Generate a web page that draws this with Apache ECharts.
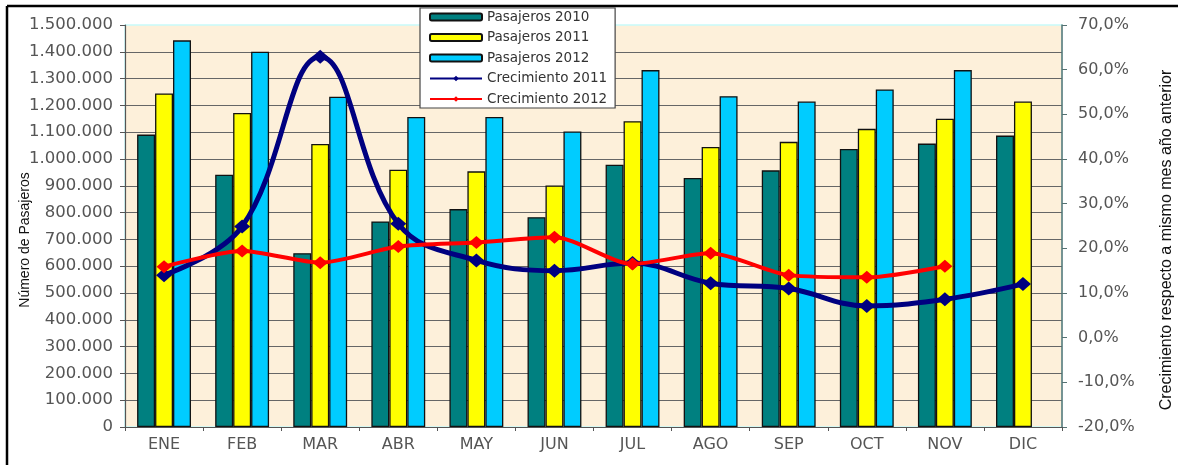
<!DOCTYPE html>
<html>
<head>
<meta charset="utf-8">
<script src="https://cdn.jsdelivr.net/npm/echarts@6/dist/echarts.min.js"></script>
<style>
html,body{margin:0;padding:0;background:#fff;}
#chart{width:1178px;height:465px;}
</style>
</head>
<body>
<div id="chart"></div>
<script>
const months = ['ENE','FEB','MAR','ABR','MAY','JUN','JUL','AGO','SEP','OCT','NOV','DIC'];
const pasajeros2010 = [1091000, 941500, 648600, 767000, 813000, 783000, 979000, 929000, 957600, 1037700, 1057500, 1087400];
const pasajeros2011 = [1244500, 1172000, 1056000, 960000, 954000, 901000, 1141000, 1045000, 1064000, 1112500, 1150000, 1214600];
const pasajeros2012 = [1442700, 1400400, 1232000, 1157000, 1157000, 1103000, 1331700, 1234500, 1214600, 1259500, 1331700, null];
const crecimiento2011 = [14.0, 24.9, 62.9, 25.5, 17.3, 15.0, 16.7, 12.2, 11.0, 7.1, 8.6, 12.0];
const crecimiento2012 = [15.9, 19.4, 16.8, 20.4, 21.3, 22.5, 16.5, 18.9, 14.0, 13.5, 16.0, null];
const leftTitle = 'Número de Pasajeros';
const rightTitle = 'Crecimiento respecto a mismo mes año anterior';
const chartTitle = 'pasajeros';

const chart = echarts.init(document.getElementById('chart'), null, {renderer: 'canvas'});
const tickFont = 'DejaVu Sans';
const fmtThousands = v => String(v).replace(/\B(?=(\d{3})+(?!\d))/g, '.');
const fmtPct = v => v.toFixed(1).replace('.', ',') + '%';

const barBase = {type: 'bar', barGap: '0%', barCategoryGap: '31%', yAxisIndex: 0};
const option = {
  animation: false,
  backgroundColor: '#ffffff',
  grid: {left: 125, right: 116, top: 25, bottom: 38, show: true, backgroundColor: '#FDF0DA', borderColor: '#C8FAFA', borderWidth: 1.5},
  legend: {
    orient: 'vertical', left: 420, top: 8,
    backgroundColor: '#ffffff', borderColor: '#444', borderWidth: 1.2,
    padding: [2, 8, 2, 9],
    itemWidth: 52, itemHeight: 7, itemGap: 6.5,
    textStyle: {fontFamily: tickFont, fontSize: 13.5, color: '#333', lineHeight: 14},
    data: ['Pasajeros 2010', 'Pasajeros 2011', 'Pasajeros 2012', 'Crecimiento 2011', 'Crecimiento 2012']
  },
  xAxis: {
    type: 'category', data: months,
    axisLine: {lineStyle: {color: '#555', width: 1.2}},
    axisTick: {show: true, length: 4, alignWithLabel: false, lineStyle: {color: '#555'}},
    axisLabel: {fontFamily: tickFont, fontSize: 16, color: '#555', margin: 10},
    splitLine: {show: false}
  },
  yAxis: [{
    type: 'value', min: 0, max: 1500000, interval: 100000, position: 'left',
    axisLine: {show: true, lineStyle: {color: '#555', width: 1.2}},
    axisTick: {show: true, length: 5, lineStyle: {color: '#555'}},
    axisLabel: {fontFamily: tickFont, fontSize: 16.5, color: '#555', margin: 12, formatter: fmtThousands},
    splitLine: {show: true, showMaxLine: false, showMinLine: false, lineStyle: {color: '#666', width: 1.2}}
  }, {
    type: 'value', min: -20, max: 70, interval: 10, position: 'right',
    axisLine: {show: true, lineStyle: {color: '#557272', width: 1.5}},
    axisTick: {show: true, length: 5, lineStyle: {color: '#557272'}},
    axisLabel: {fontFamily: tickFont, fontSize: 16, color: '#555', margin: 16, formatter: fmtPct},
    splitLine: {show: false}
  }],
  graphic: [
    {type: 'line', shape: {x1: 7, y1: 6, x2: 1178, y2: 6}, style: {stroke: '#000', lineWidth: 2.5}, z: 100},
    {type: 'line', shape: {x1: 7, y1: 6, x2: 7, y2: 465}, style: {stroke: '#000', lineWidth: 2.5}, z: 100},
    {type: 'text', x: 791, y: -14, z: 100,
      style: {text: chartTitle, font: 'bold 27px "Liberation Sans"', fill: '#000', align: 'left', verticalAlign: 'middle'}},
    {type: 'text', x: 25, y: 240, rotation: Math.PI / 2, z: 50,
      style: {text: leftTitle, font: '14px "Liberation Sans"', fill: '#111', align: 'center', verticalAlign: 'middle'}},
    {type: 'text', x: 1167, y: 240, rotation: Math.PI / 2, z: 50,
      style: {text: rightTitle, font: '16px "Liberation Sans"', fill: '#111', align: 'center', verticalAlign: 'middle'}}
  ],
  series: [
    Object.assign({}, barBase, {name: 'Pasajeros 2010', data: pasajeros2010,
      itemStyle: {color: '#008080', borderColor: '#111', borderWidth: 1.3}}),
    Object.assign({}, barBase, {name: 'Pasajeros 2011', data: pasajeros2011,
      itemStyle: {color: '#FFFF00', borderColor: '#111', borderWidth: 1.3}}),
    Object.assign({}, barBase, {name: 'Pasajeros 2012', data: pasajeros2012,
      itemStyle: {color: '#00CCFF', borderColor: '#111', borderWidth: 1.3}}),
    {type: 'line', name: 'Crecimiento 2011', yAxisIndex: 1, data: crecimiento2011,
      smooth: 0.4, symbol: 'diamond', symbolSize: [16, 14],
      lineStyle: {color: '#000080', width: 5}, itemStyle: {color: '#000080'}, z: 5},
    {type: 'line', name: 'Crecimiento 2012', yAxisIndex: 1, data: crecimiento2012,
      smooth: 0.25, symbol: 'diamond', symbolSize: [15, 13],
      lineStyle: {color: '#FF0000', width: 4}, itemStyle: {color: '#FF0000'}, z: 6}
  ]
};
chart.setOption(option);
</script>
</body>
</html>
